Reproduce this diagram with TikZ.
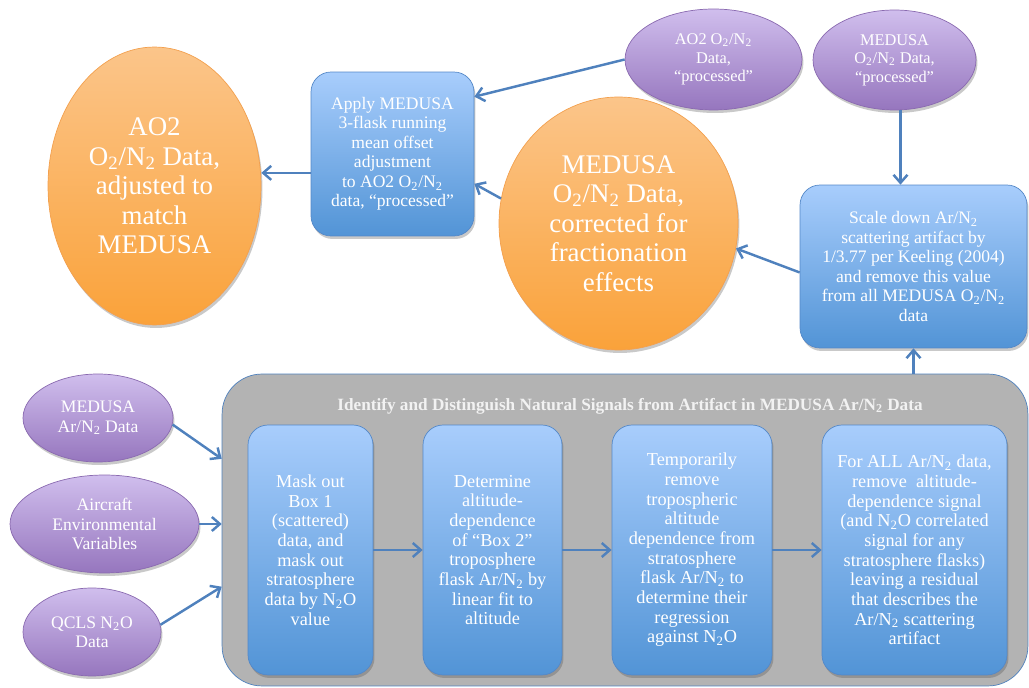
\documentclass[tikz,border=0pt]{standalone}
\usepackage{fontspec}
\setmainfont{Liberation Serif}
\usetikzlibrary{shapes.geometric,arrows.meta,shadows}

\definecolor{arrowblue}{RGB}{79,129,189}
\definecolor{boxtop}{RGB}{168,205,252}
\definecolor{boxbot}{RGB}{82,148,214}
\definecolor{boxedge}{RGB}{84,136,200}
\definecolor{purptop}{RGB}{208,190,237}
\definecolor{purpbot}{RGB}{150,118,190}
\definecolor{purpedge}{RGB}{138,106,176}
\definecolor{orgtop}{RGB}{251,197,138}
\definecolor{orgbot}{RGB}{250,162,58}
\definecolor{orgedge}{RGB}{243,160,78}
\definecolor{contgray}{RGB}{179,179,179}

\newcommand{\two}{\textsubscript{2}}

\begin{document}
\begin{tikzpicture}[x=0.02cm, y=-0.02cm,
    shade/.style={drop shadow={shadow xshift=0.03cm, shadow yshift=-0.06cm, opacity=0.3, fill=black!70}},
    orangeell/.style={ellipse, draw=orgedge, top color=orgtop, bottom color=orgbot, text=white,
        align=center, inner sep=0pt, shade, font=\fontsize{15.3}{16.8}\selectfont},
    purpleell/.style={ellipse, draw=purpedge, top color=purptop, bottom color=purpbot, text=white,
        align=center, inner sep=0pt, shade, font=\fontsize{9.3}{10.5}\selectfont},
    sourceell/.style={purpleell, font=\fontsize{10}{11}\selectfont},
    bluebox/.style={rectangle, rounded corners=0.4cm, draw=boxedge, top color=boxtop, bottom color=boxbot,
        text=white, align=center, inner sep=0pt, shade, font=\fontsize{10}{11.1}\selectfont},
    stepbox/.style={bluebox, minimum height=5.0cm, font=\fontsize{10.4}{11.2}\selectfont},
    arr/.style={draw=arrowblue, line width=1.4pt, -{Straight Barb[length=1.6mm,width=2.8mm]}}
    ]

    \useasboundingbox (0,0) rectangle (1029,688);

    % === Riga alta: dati processati e correzioni ===
    \node[orangeell, minimum width=4.26cm, minimum height=5.56cm] (ao2adj) at (154.5,186)
        {AO2\\O\two/N\two{} Data,\\adjusted to\\match\\MEDUSA};
    \node[bluebox, minimum width=3.26cm, minimum height=3.28cm] (apply) at (392.5,154)
        {Apply MEDUSA\\3-flask running\\mean offset\\adjustment\\to AO2 O\two/N\two\\data, “processed”};
    \node[purpleell, minimum width=3.54cm, minimum height=2.02cm] (ao2proc) at (713.5,59.5)
        {AO2 O\two/N\two\\Data,\\“processed”};
    \node[purpleell, minimum width=3.26cm, minimum height=2.0cm] (medproc) at (894.5,60)
        {MEDUSA\\O\two/N\two{} Data,\\“processed”};
    \node[orangeell, minimum width=4.78cm, minimum height=5.06cm] (medcorr) at (618.5,223.5)
        {MEDUSA\\O\two/N\two{} Data,\\corrected for\\fractionation\\effects};
    \node[bluebox, minimum width=4.54cm, minimum height=3.26cm] (scale) at (913.5,266.5)
        {Scale down Ar/N\two\\scattering artifact by\\1/3.77 per Keeling (2004)\\and remove this value\\from all MEDUSA O\two/N\two\\data};

    % === Contenitore grigio ===
    \node[rectangle, rounded corners=0.8cm, draw=arrowblue, fill=contgray, minimum width=16.12cm,
        minimum height=6.24cm, inner sep=0pt] (cont) at (625,530) {};
    \node[text=white!95!black, font=\fontsize{9.8}{11}\selectfont\bfseries] (title) at (630,406)
        {Identify and Distinguish Natural Signals from Artifact in MEDUSA Ar/N\two{} Data};

    \node[stepbox, minimum width=2.5cm] (s1) at (310.5,550)
        {Mask out\\Box 1\\(scattered)\\data, and\\mask out\\stratosphere\\data by N\two O\\value};
    \node[stepbox, minimum width=2.78cm] (s2) at (492.5,550)
        {Determine\\altitude-\\dependence\\of “Box 2”\\troposphere\\flask Ar/N\two{} by\\linear fit to\\altitude};
    \node[stepbox, minimum width=3.2cm] (s3) at (692,550)
        {Temporarily\\remove\\tropospheric\\altitude\\dependence from\\stratosphere\\flask Ar/N\two{} to\\determine their\\regression\\against N\two O};
    \node[stepbox, minimum width=3.7cm] (s4) at (914.5,550)
        {For ALL Ar/N\two{} data,\\remove~ altitude-\\dependence signal\\(and N\two O correlated\\signal for any\\stratosphere flasks)\\leaving a residual\\that describes the\\Ar/N\two{} scattering\\artifact};

    % === Dati in ingresso ===
    \node[sourceell, minimum width=3.0cm, minimum height=1.76cm] (medar) at (98,418)
        {MEDUSA\\Ar/N\two{} Data};
    \node[sourceell, minimum width=3.78cm, minimum height=1.96cm] (aircraft) at (104.5,524)
        {Aircraft\\Environmental\\Variables};
    \node[sourceell, minimum width=2.76cm, minimum height=1.76cm] (qcls) at (92,632)
        {QCLS N\two O\\Data};

    % Frecce
    \draw[arr] (apply.193) -- (apply.193 -| ao2adj.east);
    \draw[arr] (ao2proc.west) -- (apply.35);
    \draw[arr] (medcorr.168) -- (apply.-20);
    \draw[arr] ([xshift=0.12cm]medproc.south) -- ([xshift=0.12cm]medproc.south |- scale.north);
    \draw[arr] (scale.183) -- (medcorr.-12);
    \draw[arr] (cont.north -| scale.south) -- (scale.south);

    \draw[arr] (medar.-5) -- (cont.170);
    \draw[arr] (aircraft.east) -- (aircraft.east -| cont.west);
    \draw[arr] (qcls.6) -- (cont.188);

    \draw[arr] (s1) -- (s2);
    \draw[arr] (s2) -- (s3);
    \draw[arr] (s3) -- (s4);

\end{tikzpicture}
\end{document}
